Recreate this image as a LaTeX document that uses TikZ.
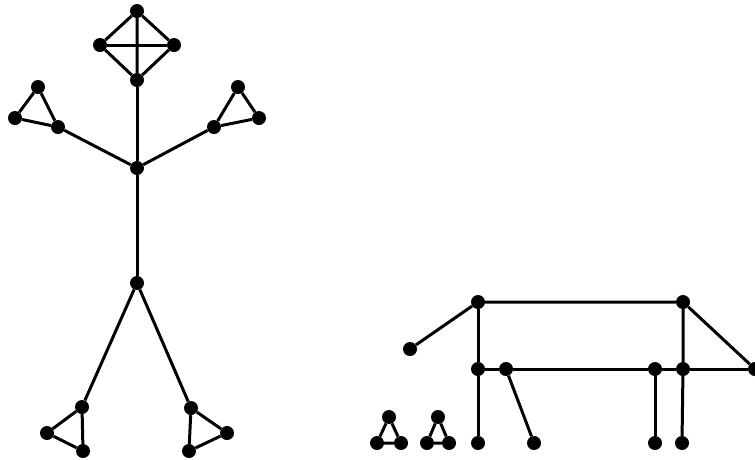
\documentclass[tikz,border=0pt]{standalone}
\begin{document}
\begin{tikzpicture}[x=1pt,y=-1pt,
  vtx/.style={circle,fill=black,inner sep=0pt,minimum size=14pt},
  edge/.style={line width=3pt}]
\useasboundingbox (0,0) rectangle (755,459);
% figure 1: stick person
\node[vtx] (dt) at (137,11) {};
\node[vtx] (dl) at (100,45) {};
\node[vtx] (dr) at (174,45) {};
\node[vtx] (db) at (137,80) {};
\node[vtx] (lt) at (38,87) {};
\node[vtx] (ll) at (15,118) {};
\node[vtx] (lr) at (58,127) {};
\node[vtx] (rt) at (238,87) {};
\node[vtx] (rr) at (259,118) {};
\node[vtx] (rl) at (214,127) {};
\node[vtx] (ch) at (137,168) {};
\node[vtx] (hp) at (137,283) {};
\node[vtx] (ft) at (82,407) {};
\node[vtx] (fl) at (47,433) {};
\node[vtx] (fb) at (83,451) {};
\node[vtx] (gt) at (191,408) {};
\node[vtx] (gr) at (227,433) {};
\node[vtx] (gb) at (189,451) {};
\draw[edge] (dt) -- (dl) -- (db) -- (dr) -- (dt) -- (db);
\draw[edge] (dl) -- (dr);
\draw[edge] (lt) -- (ll) -- (lr) -- (lt);
\draw[edge] (rt) -- (rr) -- (rl) -- (rt);
\draw[edge] (db) -- (ch) -- (hp);
\draw[edge] (lr) -- (ch) -- (rl);
\draw[edge] (hp) -- (ft); \draw[edge] (hp) -- (gt);
\draw[edge] (ft) -- (fl) -- (fb) -- (ft);
\draw[edge] (gt) -- (gr) -- (gb) -- (gt);
% figure 2: animal
\node[vtx] (a) at (478,302) {};
\node[vtx] (b) at (683,302) {};
\node[vtx] (hd) at (410,349) {};
\node[vtx] (m1) at (478,369) {};
\node[vtx] (m2) at (506,369) {};
\node[vtx] (m3) at (655,369) {};
\node[vtx] (m4) at (683,369) {};
\node[vtx] (m5) at (755,369) {};
\node[vtx] (b1) at (478,443) {};
\node[vtx] (b2) at (534,443) {};
\node[vtx] (b3) at (655,443) {};
\node[vtx] (b4) at (682,443) {};
\node[vtx] (s1t) at (389,417) {};
\node[vtx] (s1l) at (377,443) {};
\node[vtx] (s1r) at (401,443) {};
\node[vtx] (s2t) at (438,417) {};
\node[vtx] (s2l) at (427,443) {};
\node[vtx] (s2r) at (449,443) {};
\draw[edge] (hd) -- (a) -- (b) -- (m5);
\draw[edge] (a) -- (m1) -- (b1);
\draw[edge] (b) -- (m4) -- (b4);
\draw[edge] (m1) -- (m2) -- (m3) -- (m4) -- (m5);
\draw[edge] (m2) -- (b2);
\draw[edge] (m3) -- (b3);
\draw[edge] (s1t) -- (s1l) -- (s1r) -- (s1t);
\draw[edge] (s2t) -- (s2l) -- (s2r) -- (s2t);
\end{tikzpicture}
\end{document}
